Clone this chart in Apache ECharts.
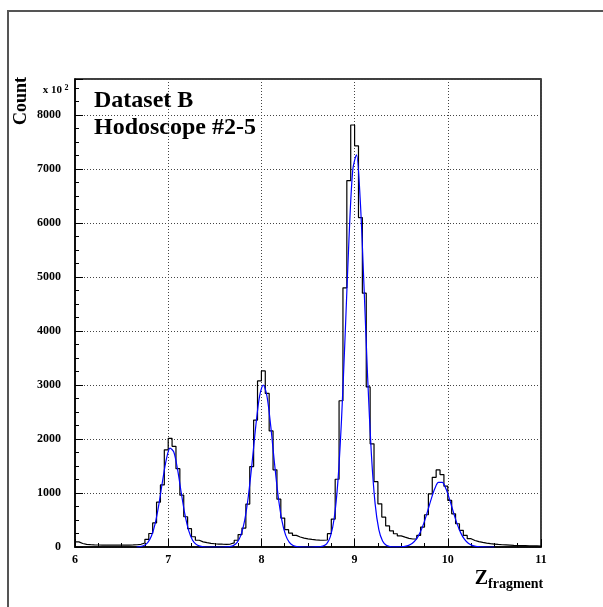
<!DOCTYPE html>
<html><head><meta charset="utf-8">
<script src="https://cdn.jsdelivr.net/npm/echarts@6/dist/echarts.min.js"></script>
<style>html,body{margin:0;padding:0;background:#fff}#c{width:603px;height:607px}</style>
</head><body><div id="c"></div>
<script>
// Histogram binning (120 bins over 6..11) and bin contents
const binRange = [6, 11];
const counts = [
  95,65,50,43,39,37,35,34,33,33,
  33,34,35,36,38,42,50,75,142,250,
  445,830,1150,1800,2010,1865,1450,960,560,340,
  190,125,95,80,68,60,55,52,50,55,
  75,125,230,350,795,1490,2350,3075,3260,2845,
  2150,1430,885,535,320,258,215,185,165,150,
  140,133,128,125,130,246,517,1255,2708,4800,
  6785,7815,7430,6100,4700,2965,1910,1210,800,555,
  390,300,245,205,182,160,148,148,215,369,
  597,985,1290,1428,1342,1126,862,615,431,308,
  215,154,120,100,85,72,62,55,48,42,
  38,34,30,28,26,24,22,20,20,18
];
// Fit curve (blue)
const fitX = [6.66,6.70,6.74,6.78,6.82,6.86,6.90,6.94,6.98,7.02,7.06,7.10,7.14,7.18,7.22,7.26,7.30,7.34,7.38,7.42,7.46,7.50,7.54,7.58,7.62,7.66,7.70,7.74,7.78,7.82,7.86,7.90,7.94,7.98,8.02,8.06,8.10,8.14,8.18,8.22,8.26,8.30,8.34,8.38,8.42,8.46,8.50,8.54,8.58,8.62,8.66,8.70,8.74,8.78,8.82,8.86,8.90,8.94,8.98,9.02,9.06,9.10,9.14,9.18,9.22,9.26,9.30,9.34,9.38,9.42,9.46,9.50,9.54,9.58,9.62,9.66,9.70,9.74,9.78,9.82,9.86,9.90,9.94,9.98,10.02,10.06,10.10,10.14,10.18,10.22,10.26,10.30,10.34,10.38,10.42,10.46,10.50];
const fitY = [0,8,28,81,202,434,791,1227,1623,1831,1759,1441,1005,598,302,131,48,15,4,0,0,0,0,0,2,8,29,86,220,489,939,1561,2243,2790,3000,2790,2243,1561,939,489,220,86,29,8,2,0,0,0,1,4,16,60,191,518,1197,2372,3986,5716,6979,7264,6439,4869,3139,1723,803,321,110,31,8,2,2,5,12,31,68,140,257,428,645,878,1078,1195,1195,1078,878,645,428,257,140,68,31,12,5,1,0,0,0];
const xTicks = [6, 7, 8, 9, 10, 11];
const yTicks = [0, 1000, 2000, 3000, 4000, 5000, 6000, 7000, 8000];
const yMax = 8667;
const titleLines = ['Dataset B', 'Hodoscope #2-5'];
const yTitle = 'Count';
const yScaleNote = ['x 10', '2'];
const xTitle = ['Z', 'fragment'];

const nBins = counts.length;
const bw = (binRange[1] - binRange[0]) / nBins;
const histData = counts.map((c, i) => [binRange[0] + i * bw, c]);
histData.push([binRange[1], counts[nBins - 1]]);
const fitData = fitX.map((x, i) => [x, fitY[i]]);

const FONT = 'Liberation Serif, Times New Roman, serif';
const chart = echarts.init(document.getElementById('c'), null, {renderer: 'canvas'});
const dotted = {show: true, lineStyle: {color: '#444', width: 1, type: [1, 2]}};
chart.setOption({
  backgroundColor: '#fff',
  animation: false,
  grid: {left: 75, top: 79, width: 466, height: 468, show: true, borderColor: '#000', borderWidth: 1.5, containLabel: false, outerBoundsMode: 'none'},
  xAxis: {
    type: 'value', min: xTicks[0], max: xTicks[xTicks.length - 1], interval: 1,
    axisLine: {show: true, onZero: false, lineStyle: {color: '#000', width: 1.5}},
    axisTick: {show: true, inside: true, length: 8, lineStyle: {color: '#000', width: 1}},
    minorTick: {show: true, splitNumber: 4, length: 4, lineStyle: {color: '#000', width: 1}},
    axisLabel: {margin: 7, color: '#000', fontFamily: FONT, fontWeight: 'bold', fontSize: 12, formatter: v => String(v)},
    splitLine: dotted
  },
  yAxis: {
    type: 'value', min: 0, max: yMax, interval: 1000,
    axisLine: {show: true, onZero: false, lineStyle: {color: '#000', width: 1.5}},
    axisTick: {show: true, inside: true, length: 8, lineStyle: {color: '#000', width: 1}},
    minorTick: {show: true, splitNumber: 4, length: 4, lineStyle: {color: '#000', width: 1}},
    axisLabel: {margin: 14, color: '#000', fontFamily: FONT, fontWeight: 'bold', fontSize: 12, showMaxLabel: false,
      formatter: v => (yTicks.indexOf(v) >= 0 ? String(v) : '')},
    splitLine: dotted
  },
  series: [
    {type: 'line', data: histData, step: 'end', symbol: 'none', clip: true,
     lineStyle: {color: '#000', width: 1.2}, z: 3},
    {type: 'line', data: fitData, smooth: 0.3, symbol: 'none', clip: true,
     lineStyle: {color: '#0000ff', width: 1.2}, z: 4}
  ],
  graphic: [
    {type: 'rect', shape: {x: 8, y: 11, width: 800, height: 800}, style: {fill: null, stroke: '#555', lineWidth: 2}, silent: true, z: 0},
    {type: 'text', x: 94, y: 101, style: {text: titleLines[0], font: 'bold 24px ' + FONT, fill: '#000', textAlign: 'left', textVerticalAlign: 'middle'}, z: 10},
    {type: 'text', x: 94, y: 128, style: {text: titleLines[1], font: 'bold 24px ' + FONT, fill: '#000', textAlign: 'left', textVerticalAlign: 'middle'}, z: 10},
    {type: 'text', x: 21, y: 101, rotation: Math.PI / 2, style: {text: yTitle, font: 'bold 18px ' + FONT, fill: '#000', textAlign: 'center', textVerticalAlign: 'middle'}, z: 10},
    {type: 'text', x: 62, y: 90.5, style: {text: yScaleNote[0], font: 'bold 11px ' + FONT, fill: '#000', textAlign: 'right', textVerticalAlign: 'middle'}, z: 10},
    {type: 'text', x: 64.5, y: 87.5, style: {text: yScaleNote[1], font: 'bold 8px ' + FONT, fill: '#000', textAlign: 'left', textVerticalAlign: 'middle'}, z: 10},
    {type: 'text', x: 488, y: 579, style: {text: xTitle[0], font: 'bold 20px ' + FONT, fill: '#000', textAlign: 'right', textVerticalAlign: 'middle'}, z: 10},
    {type: 'text', x: 488, y: 584, style: {text: xTitle[1], font: 'bold 14px ' + FONT, fill: '#000', textAlign: 'left', textVerticalAlign: 'middle'}, z: 10}
  ]
});
</script>
</body></html>
